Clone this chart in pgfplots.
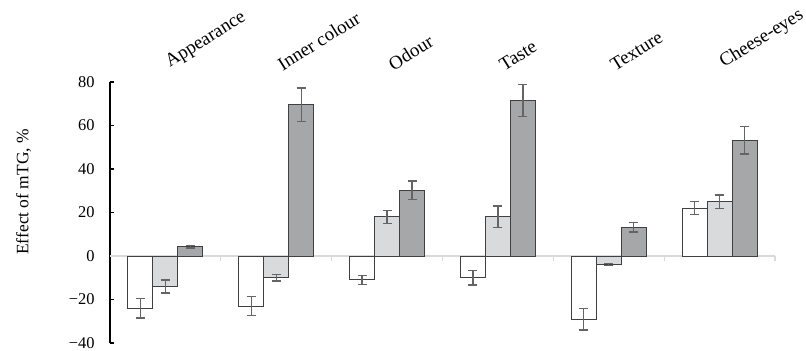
\documentclass[border=0pt]{standalone}
\usepackage{pgfplots}
\pgfplotsset{compat=1.18}
\usepackage{fontspec}
\setmainfont{Liberation Serif}
\definecolor{lightbar}{RGB}{217,218,220}
\definecolor{darkbar}{RGB}{166,167,169}
\definecolor{barborder}{RGB}{64,64,64}
\definecolor{errcol}{RGB}{100,100,100}
\definecolor{zeroline}{RGB}{217,217,217}
\begin{document}
\begin{tikzpicture}
\path[use as bounding box] (-110bp,-8bp) rectangle (696bp,343bp);
\begin{axis}[
  at={(0,0)}, anchor=south west,
  scale only axis,
  width=665bp, height=261bp,
  xmin=-0.5, xmax=5.5,
  ymin=-40, ymax=80,
  enlargelimits=false,
  axis y line*=left,
  axis x line*=top,
  x axis line style={draw=none},
  y axis line style={black, line width=1.3bp},
  xtick={0,1,2,3,4,5},
  xticklabels={Appearance, Inner colour, Odour, Taste, Texture, Cheese-eyes},
  xtick style={draw=none},
  x tick label style={font=\fontsize{19}{22}\selectfont, rotate=32, anchor=south west, yshift=1bp, xshift=8bp, inner sep=1bp},
  ytick={-40,-20,0,20,40,60,80},
  yticklabels={{−40},{−20},0,20,40,60,80},
  y tick label style={font=\fontsize{16.5}{19}\selectfont, anchor=east, xshift=-12bp},
  ytick style={black, line width=1.3bp},
  tick align=inside,
  major tick length=4bp,
  ylabel={Effect of mTG, \%},
  ylabel style={font=\fontsize{17.5}{20}\selectfont, at={(axis description cs:-0.13,0.579)}, anchor=center, rotate=0},
  ybar=0pt,
  bar width=25bp,
  clip=false,
  error bars/error bar style={errcol, line width=1.3bp},
  error bars/error mark options={rotate=90, mark size=4.5bp, line width=1.3bp, errcol},
]
% zero line and category separators
\draw[zeroline, line width=2bp] (axis cs:-0.5,0) -- (axis cs:5.5,0);
\pgfplotsinvokeforeach{0.5,1.5,2.5,3.5,4.5,5.5}{
  \draw[zeroline, line width=1.3bp] (axis cs:#1,0) -- ([yshift=-5bp]axis cs:#1,0);
}
\addplot+[fill=white, draw=barborder, line width=1bp,
  error bars/.cd, y dir=both, y explicit]
  coordinates {
  (0,-24) +- (0,4.5)
  (1,-23) +- (0,4.4)
  (2,-11) +- (0,2)
  (3,-10) +- (0,3.3)
  (4,-29) +- (0,5)
  (5,22) +- (0,3)
  };
\addplot+[fill=lightbar, draw=barborder, line width=1bp,
  error bars/.cd, y dir=both, y explicit]
  coordinates {
  (0,-14) +- (0,3)
  (1,-10) +- (0,1.5)
  (2,18) +- (0,3)
  (3,18) +- (0,5)
  (4,-3.8) +- (0,0.5)
  (5,25) +- (0,3)
  };
\addplot+[fill=darkbar, draw=barborder, line width=1bp,
  error bars/.cd, y dir=both, y explicit]
  coordinates {
  (0,4.3) +- (0,0.6)
  (1,69.5) +- (0,7.8)
  (2,30.3) +- (0,4.2)
  (3,71.5) +- (0,7.2)
  (4,13.2) +- (0,2.2)
  (5,53.3) +- (0,6.4)
  };
\end{axis}
\end{tikzpicture}
\end{document}
